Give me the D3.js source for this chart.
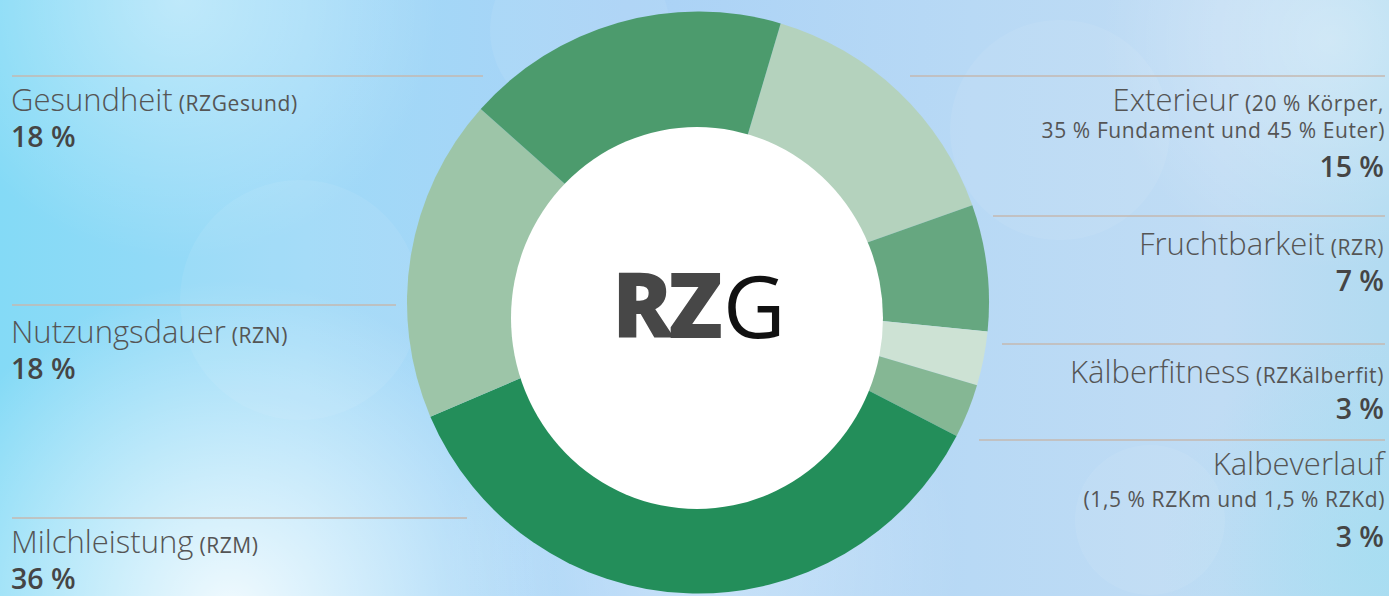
<!DOCTYPE html>
<html>
<head>
<meta charset="utf-8">
<script src="https://cdn.jsdelivr.net/npm/d3@7"></script>
<style>
  html, body { margin: 0; padding: 0; overflow: hidden; }
  svg { display: block; font-family: "Open Sans", "Noto Sans", sans-serif; }
</style>
</head>
<body>
<svg id="chart" width="1389" height="596"></svg>
<script>
// ---- data ----
const categories = ["Exterieur", "Fruchtbarkeit", "Kälberfitness", "Kalbeverlauf", "Milchleistung", "Nutzungsdauer", "Gesundheit"];
const values = [15, 7, 3, 3, 36, 18, 18];
const subtitles = ["(20 % Körper,", "(RZR)", "(RZKälberfit)", "", "(RZM)", "(RZN)", "(RZGesund)"];
const secondLines = ["35 % Fundament und 45 % Euter)", "", "", "(1,5 % RZKm und 1,5 % RZKd)", "", "", ""];
const colors = ["#b4d2bd", "#66a780", "#cde2d4", "#85b794", "#238e5a", "#9dc5a8", "#4c9b6d"];
const centerBold = "RZ";
const centerLight = "G";

// ---- layout (positions only) ----
const W = 1389, H = 596;
const cx = 698, cy = 302.5, outerR = 291;
const labelLayout = [
  { side: "right", lineY: 76,  lineX: 910, titleY: 111, line2Y: 138, valueY: 177 },
  { side: "right", lineY: 216, lineX: 993, titleY: 255, valueY: 291 },
  { side: "right", lineY: 344, lineX: 1002, titleY: 383, valueY: 419 },
  { side: "right", lineY: 440, lineX: 979, titleY: 475, line2Y: 507, valueY: 547 },
  { side: "left",  lineY: 518, lineX: 467, titleY: 553, valueY: 589 },
  { side: "left",  lineY: 305, lineX: 396, titleY: 343, valueY: 379 },
  { side: "left",  lineY: 76,  lineX: 483, titleY: 111, valueY: 147 }
];

const svg = d3.select("#chart");
const defs = svg.append("defs");

// background
const bg = defs.append("linearGradient").attr("id", "bg").attr("x1", 0).attr("x2", 1).attr("y1", 0).attr("y2", 0);
[[0, "#84daf6"], [0.22, "#9fdaf8"], [0.45, "#aad2f6"], [0.7, "#b8d9f5"], [0.88, "#c0dcf4"], [1, "#b2dbf1"]]
  .forEach(([o, c]) => bg.append("stop").attr("offset", o).attr("stop-color", c));
svg.append("rect").attr("width", W).attr("height", H).attr("fill", "url(#bg)");

function glow(id, x, y, r, color, op) {
  const g = defs.append("radialGradient").attr("id", id);
  g.append("stop").attr("offset", 0).attr("stop-color", color).attr("stop-opacity", op);
  g.append("stop").attr("offset", 1).attr("stop-color", color).attr("stop-opacity", 0);
  svg.append("circle").attr("cx", x).attr("cy", y).attr("r", r).attr("fill", `url(#${id})`);
}
glow("g1", 230, 610, 330, "#ffffff", 0.85);
glow("g2", 180, 0, 260, "#ffffff", 0.4);
glow("g3", 1330, 40, 230, "#ffffff", 0.35);
glow("g4", 1380, 560, 220, "#9fe0f2", 0.5);
glow("g5", 700, 560, 260, "#ffffff", 0.35);
// faint bokeh
[[1150, 520, 75], [1060, 130, 110], [580, 30, 90], [300, 300, 120]].forEach(([x, y, r]) =>
  svg.append("circle").attr("cx", x).attr("cy", y).attr("r", r).attr("fill", "#ffffff").attr("opacity", 0.07));

// ---- donut ----
const startOffset = 16.5 * Math.PI / 180;
const pie = d3.pie().sort(null).value(d => d)
  .startAngle(startOffset).endAngle(startOffset + 2 * Math.PI);
const arc = d3.arc().innerRadius(0).outerRadius(outerR);
const g = svg.append("g").attr("transform", `translate(${cx},${cy})`);
g.selectAll("path").data(pie(values)).join("path")
  .attr("d", arc)
  .attr("fill", (d, i) => colors[i]);

// white centre
svg.append("ellipse").attr("cx", 697).attr("cy", 318).attr("rx", 186).attr("ry", 191).attr("fill", "#ffffff");

// centre title
const ct = svg.append("text").attr("x", 612).attr("y", 338).attr("text-anchor", "start").attr("font-size", 90);
ct.append("tspan").attr("font-weight", 800).attr("fill", "#474747").attr("letter-spacing", -5).text(centerBold);
ct.append("tspan").attr("font-weight", 400).attr("fill", "#111111").attr("font-size", 86).attr("dx", 5).text(centerLight);

// ---- labels ----
const labels = svg.append("g");
categories.forEach((name, i) => {
  const L = labelLayout[i];
  const right = L.side === "right";
  const x = right ? 1384 : 11;
  const anchor = right ? "end" : "start";
  labels.append("line")
    .attr("x1", right ? L.lineX : 12).attr("x2", right ? 1385 : L.lineX)
    .attr("y1", L.lineY).attr("y2", L.lineY)
    .attr("stroke", "#c4b9b0").attr("stroke-width", 1.3);
  const t = labels.append("text").attr("x", x).attr("y", L.titleY).attr("text-anchor", anchor).attr("fill", "#555555");
  t.append("tspan").attr("font-size", 31).attr("font-weight", 300).text(name);
  if (subtitles[i]) {
    t.append("tspan").attr("font-size", 21).attr("font-weight", 400).attr("letter-spacing", 0.6).attr("dx", 6).text(subtitles[i]);
  }
  if (secondLines[i]) {
    labels.append("text").attr("x", x + 1).attr("y", L.line2Y).attr("text-anchor", anchor)
      .attr("fill", "#555555").attr("font-size", 21).attr("letter-spacing", 0.6).text(secondLines[i]);
  }
  labels.append("text").attr("x", x).attr("y", L.valueY).attr("text-anchor", anchor)
    .attr("fill", "#454545").attr("font-size", 28.5).attr("font-weight", 600).text(values[i] + " %");
});
</script>
</body>
</html>
